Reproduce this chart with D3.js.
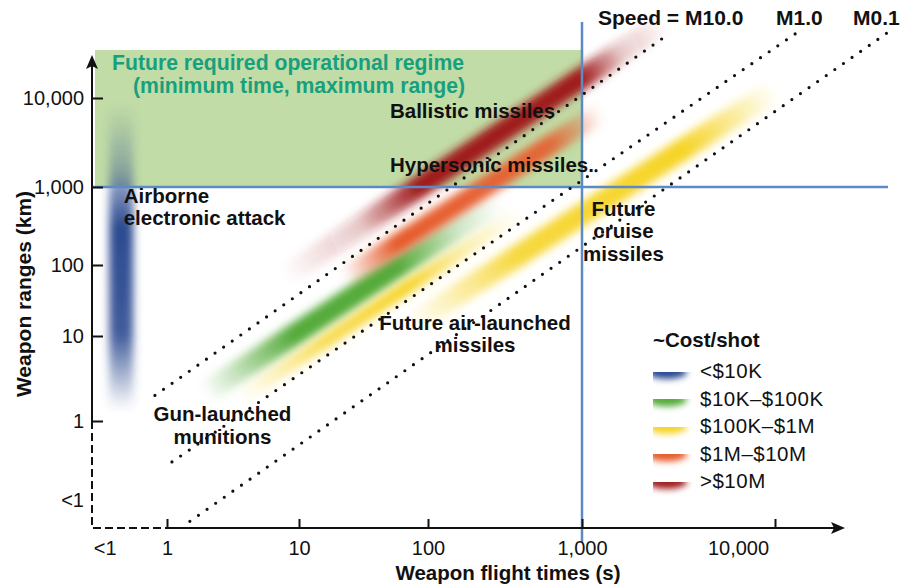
<!DOCTYPE html>
<html>
<head>
<meta charset="utf-8">
<script src="https://cdn.jsdelivr.net/npm/d3@7"></script>
<style>
html, body { margin: 0; padding: 0; background: #fff; }
svg { display: block; font-family: "Liberation Sans", Arial, Helvetica, sans-serif; }
</style>
</head>
<body>
<svg id="chart" width="904" height="587"></svg>
<script>
/*** data ***/
var xTicks = [1, 10, 100, 1000, 10000];          // flight time (s)
var yTicks = [1, 10, 100, 1000, 10000];          // range (km)
var belowOne = { time: 0.34, range: 0.117 };     // where the "<1" labels sit

var timeLimit = 1000;    // s
var rangeLimit = 1000;   // km

var costLabels = ["<$10K", "$10K\u2013$100K", "$100K\u2013$1M", "$1M\u2013$10M", ">$10M"];
var costColors = ["#2c4a90", "#55ab3b", "#f6d428", "#e65b2c", "#a01c1e"];

// weapon bands: cost class, [time, range] at each end
var bandCost  = [0, 1, 2, 3, 4, 2];
var bandStart = [[0.45, 1.35], [1.94, 2.13], [3.6, 1.9],  [22.7, 66],   [7.8, 68],      [72, 14]];
var bandEnd   = [[0.45, 8300], [294, 680],   [395, 470],  [1240, 6900], [2700, 71000],  [10000, 12300]];

// constant speed lines
var machNames = ["Speed = M10.0", "M1.0", "M0.1"];
var machStart = [[0.81, 2.0], [1.09, 0.33], [1.49, 0.066]];
var machEnd   = [[2860, 53700], [13150, 55200], [38000, 53700]];

var labels = [
    { lines: ["Ballistic missiles"], t: 50.7, r: 5960, anchor: "start" },
    { lines: ["Hypersonic missiles."], t: 50.7, r: 1475, anchor: "start" },
    { lines: ["Airborne", "electronic attack"], t: 0.47, r: 624, anchor: "start" },
    { lines: ["Future", "cruise", "missiles"], t: 1640, r: 425, anchor: "middle" },
    { lines: ["Future air-launched", "missiles"], t: 202, r: 12.2, anchor: "middle" },
    { lines: ["Gun-launched", "munitions"], t: 2.63, r: 1.0, anchor: "middle" }
];

/*** style ***/
var bandWidth = [24, 22, 14, 20, 22, 22];
var bandStops = [
    [[0, 0], [0.25, 0.9], [0.6, 1], [0.8, 0.35], [1, 0]],
    [[0, 0], [0.3, 1], [0.65, 1], [0.85, 0.3], [1, 0]],
    [[0, 0], [0.3, 0.8], [0.6, 1], [0.8, 0.4], [1, 0]],
    [[0, 0], [0.2, 1], [0.8, 0.9], [1, 0]],
    [[0, 0], [0.2, 0.25], [0.35, 1], [0.78, 1], [0.88, 0.25], [1, 0]],
    [[0, 0], [0.3, 0.9], [0.75, 1], [1, 0]]
];
var ink = "#111";
var blueLine = "#5b8ac6";
var bold = 20.5;

var svg = d3.select("#chart");
var W = 904, H = 587;
var left = 92, bottom = 528;

// hand drawn schematic: decades are not evenly spaced
var x = d3.scaleLog().domain(xTicks).range([167, 299, 428, 582, 775]);
var y = d3.scaleLog().domain(yTicks).range([421, 336, 265, 187, 98]);

var defs = svg.append("defs");
defs.append("filter")
    .attr("id", "soft")
    .attr("filterUnits", "userSpaceOnUse")
    .attr("x", 0).attr("y", 0).attr("width", W).attr("height", H)
    .append("feGaussianBlur").attr("stdDeviation", 4.2);
defs.append("filter")
    .attr("id", "softer")
    .attr("filterUnits", "userSpaceOnUse")
    .attr("x", 0).attr("y", 0).attr("width", W).attr("height", H)
    .append("feGaussianBlur").attr("stdDeviation", 3);

/*** operational regime box ***/
svg.append("rect")
    .attr("x", left + 3)
    .attr("y", 50)
    .attr("width", x(timeLimit) - left - 3)
    .attr("height", y(rangeLimit) - 50)
    .attr("fill", "#c1dca6");

/*** bands ***/
bandStart.forEach(function (s, i) {
    var x1 = x(s[0]), y1 = y(s[1]), x2 = x(bandEnd[i][0]), y2 = y(bandEnd[i][1]);
    var g = defs.append("linearGradient")
        .attr("id", "band" + i)
        .attr("gradientUnits", "userSpaceOnUse")
        .attr("x1", x1).attr("y1", y1).attr("x2", x2).attr("y2", y2);
    bandStops[i].forEach(function (st) {
        g.append("stop")
            .attr("offset", st[0])
            .attr("stop-color", costColors[bandCost[i]])
            .attr("stop-opacity", st[1]);
    });
    svg.append("line")
        .attr("x1", x1).attr("y1", y1).attr("x2", x2).attr("y2", y2)
        .attr("stroke", "url(#band" + i + ")")
        .attr("stroke-width", bandWidth[i])
        .attr("stroke-linecap", "round")
        .attr("filter", "url(#soft)");
});

/*** threshold lines ***/
svg.append("line")
    .attr("x1", left).attr("x2", 888)
    .attr("y1", y(rangeLimit)).attr("y2", y(rangeLimit))
    .attr("stroke", blueLine).attr("stroke-width", 2.5);
svg.append("line")
    .attr("x1", x(timeLimit)).attr("x2", x(timeLimit))
    .attr("y1", 22).attr("y2", 542)
    .attr("stroke", blueLine).attr("stroke-width", 2.5);

/*** speed lines ***/
machStart.forEach(function (s, i) {
    svg.append("line")
        .attr("x1", x(s[0])).attr("y1", y(s[1]))
        .attr("x2", x(machEnd[i][0])).attr("y2", y(machEnd[i][1]))
        .attr("stroke", ink)
        .attr("stroke-width", 3.2)
        .attr("stroke-linecap", "round")
        .attr("stroke-dasharray", "0,10.5");
});
svg.selectAll("text.mach")
    .data(machNames)
    .enter()
    .append("text")
    .attr("class", "mach")
    .attr("x", function (d, i) { return [598, 776, 853][i]; })
    .attr("y", 25)
    .attr("font-size", 21).attr("font-weight", "bold").attr("fill", ink)
    .text(function (d) { return d; });

/*** axes ***/
var yAxis = d3.axisLeft(y).tickValues(yTicks).tickSize(-11).tickPadding(8).tickFormat(d3.format(","));
var gy = svg.append("g").attr("transform", "translate(" + left + ",0)").call(yAxis);
var xAxis = d3.axisBottom(x).tickValues(xTicks).tickSize(-9).tickPadding(13).tickFormat(d3.format(","));
var gx = svg.append("g").attr("transform", "translate(0," + bottom + ")").call(xAxis);
[gx, gy].forEach(function (g) {
    g.select(".domain").remove();
    g.selectAll(".tick line").attr("stroke", ink).attr("stroke-width", 2);
    g.selectAll(".tick text").attr("font-size", 20).attr("fill", ink).attr("font-family", null);
    g.attr("font-family", null);
});
// the 10,000 label sits left of its tick in the original
gx.selectAll(".tick text").filter(function (d) { return d === 10000; }).attr("dx", -37);

svg.append("text").attr("x", x(belowOne.time)).attr("y", 555)
    .attr("text-anchor", "middle").attr("font-size", 20).attr("fill", ink).text("<1");
svg.append("text").attr("x", left - 8).attr("y", y(belowOne.range) + 6.5)
    .attr("text-anchor", "end").attr("font-size", 20).attr("fill", ink).text("<1");

// axis lines: solid above 1, dashed below
svg.append("line").attr("x1", left).attr("x2", left).attr("y1", y(1)).attr("y2", 64)
    .attr("stroke", ink).attr("stroke-width", 2);
svg.append("line").attr("x1", x(1)).attr("x2", 836).attr("y1", bottom).attr("y2", bottom)
    .attr("stroke", ink).attr("stroke-width", 2);
svg.append("path")
    .attr("d", "M" + left + "," + y(1) + "V" + bottom + "H" + x(1))
    .attr("fill", "none").attr("stroke", ink).attr("stroke-width", 2)
    .attr("stroke-dasharray", "8,4");
svg.append("path")
    .attr("d", "M" + left + ",55L" + (left - 6) + ",69L" + left + ",66L" + (left + 6) + ",69Z")
    .attr("fill", ink);
svg.append("path")
    .attr("d", "M845," + bottom + "L831," + (bottom - 6) + "L834," + bottom + "L831," + (bottom + 6) + "Z")
    .attr("fill", ink);

svg.append("text")
    .attr("x", 508).attr("y", 580)
    .attr("text-anchor", "middle").attr("font-size", 20.5).attr("font-weight", "bold").attr("fill", ink)
    .text("Weapon flight times (s)");
svg.append("text")
    .attr("transform", "translate(31,294) rotate(-90)")
    .attr("text-anchor", "middle").attr("font-size", 21).attr("font-weight", "bold").attr("fill", ink)
    .text("Weapon ranges (km)");

/*** regime title ***/
var title = svg.append("text")
    .attr("font-size", 21.2).attr("font-weight", "bold").attr("fill", "#17a07e");
title.append("tspan").attr("x", 112).attr("y", 70).text("Future required operational regime");
title.append("tspan").attr("x", 133).attr("y", 93).text("(minimum time, maximum range)");

/*** weapon labels ***/
labels.forEach(function (l) {
    var t = svg.append("text")
        .attr("font-size", bold).attr("font-weight", "bold").attr("fill", ink)
        .attr("text-anchor", l.anchor);
    l.lines.forEach(function (s, k) {
        t.append("tspan").attr("x", x(l.t)).attr("y", y(l.r) + k * 22.5).text(s);
    });
});

/*** legend ***/
var legend = svg.append("g").attr("transform", "translate(653,347)");
legend.append("text")
    .attr("font-size", bold).attr("font-weight", "bold").attr("fill", ink)
    .text("~Cost/shot");
var row = legend.selectAll("g.row")
    .data(costLabels)
    .enter()
    .append("g")
    .attr("class", "row")
    .attr("transform", function (d, i) { return "translate(0," + (25 + i * 27.5) + ")"; });
row.append("ellipse")
    .attr("cx", 14).attr("cy", 0)
    .attr("rx", 20).attr("ry", 7)
    .attr("fill", function (d, i) { return costColors[i]; })
    .attr("filter", "url(#softer)");
row.append("text")
    .attr("x", 47).attr("y", 6)
    .attr("font-size", 20.5).attr("letter-spacing", 0.5).attr("fill", ink)
    .text(function (d) { return d; });
</script>
</body>
</html>
